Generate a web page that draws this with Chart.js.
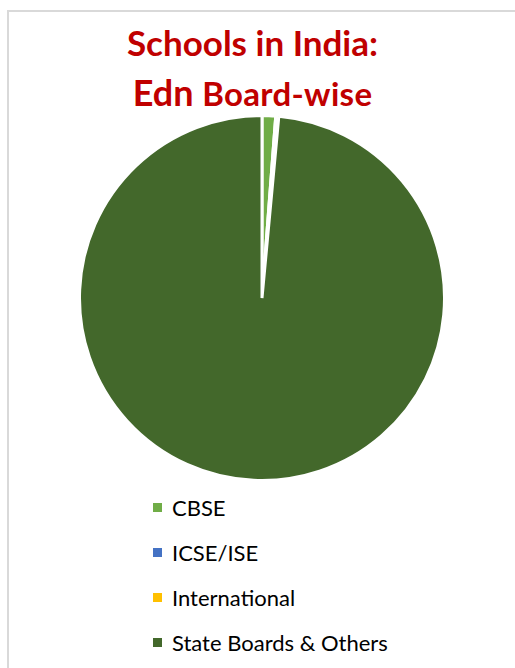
<!DOCTYPE html>
<html>
<head>
<meta charset="utf-8">
<script src="https://cdn.jsdelivr.net/npm/chart.js@4"></script>
<style>
  html, body { margin: 0; padding: 0; background: #fff; width: 515px; height: 668px; overflow: hidden; }
  #frame { position: absolute; left: 7px; top: 10px; width: 600px; height: 700px; border-left: 2px solid #d9d9d9; border-top: 2px solid #d9d9d9; }
  .title { position: absolute; left: 0; width: 505px; text-align: center; color: #C00000; font-family: Lato, "Open Sans", sans-serif; font-weight: bold; white-space: nowrap; }
  #t1 { top: 22px; font-size: 35px; line-height: 40px; }
  #t2 { top: 72px; font-size: 36px; line-height: 40px; }
  #t2 .small { font-size: 33px; letter-spacing: 0.3px; }
  #chartBox { position: absolute; left: 78px; top: 114px; width: 368px; height: 368px; }
  #legend { position: absolute; left: 153px; top: 0; font-family: Lato, "Open Sans", sans-serif; font-size: 22px; color: #000; }
  .item { position: absolute; left: 0; height: 30px; white-space: nowrap; }
  .box { position: absolute; left: 0; top: 10px; width: 9px; height: 9px; }
  .lbl { position: absolute; left: 19px; top: 0; line-height: 30px; }
</style>
</head>
<body>
<div id="frame"></div>
<div class="title" id="t1">Schools in India:</div>
<div class="title" id="t2">Edn <span class="small">Board-wise</span></div>
<div id="chartBox"><canvas id="c" width="368" height="368"></canvas></div>
<div id="legend"></div>
<script>
const categories = ["CBSE", "ICSE/ISE", "International", "State Boards & Others"];
const shares = [1.2, 0.2, 0.07, 98.53];
const colors = ["#70AD47", "#4472C4", "#FFC000", "#43682B"];
const legendRowCenters = [508, 553, 598, 643];

new Chart(document.getElementById('c'), {
  type: 'pie',
  data: {
    labels: categories,
    datasets: [{
      data: shares,
      backgroundColor: colors,
      borderColor: '#ffffff',
      borderWidth: 3,
      hoverOffset: 0
    }]
  },
  options: {
    responsive: false,
    animation: false,
    events: [],
    layout: { padding: 0 },
    plugins: {
      legend: { display: false },
      title: { display: false },
      tooltip: { enabled: false }
    }
  }
});

const legend = document.getElementById('legend');
categories.forEach((name, i) => {
  const item = document.createElement('div');
  item.className = 'item';
  item.style.top = (legendRowCenters[i] - 15) + 'px';
  const box = document.createElement('div');
  box.className = 'box';
  box.style.background = colors[i];
  const lbl = document.createElement('span');
  lbl.className = 'lbl';
  lbl.textContent = name;
  item.appendChild(box);
  item.appendChild(lbl);
  legend.appendChild(item);
});
</script>
</body>
</html>
